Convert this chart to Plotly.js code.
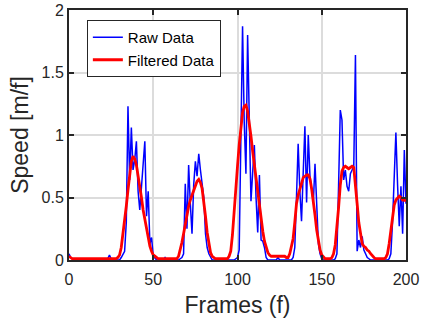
<!DOCTYPE html>
<html>
<head>
<meta charset="utf-8">
<script src="https://cdn.plot.ly/plotly-3.0.1.min.js"></script>
<style>html,body{margin:0;padding:0;background:#fff;}#chart{width:422px;height:320px;}</style>
</head>
<body>
<div id="chart"></div>
<script>
// Frame index 0..200
const frames = Array.from({length: 201}, (_, i) => i);

// Raw speed per frame
const rawData = [
  0.05,0.02,0.01,0,0,0,0,0,0,0,
  0,0,0,0,0,0,0,0,0,0,
  0,0,0,0.01,0.04,0.01,0,0,0,0,
  0,0.02,0.04,0.07,0.3,1.23,0.64,1.06,0.72,0.8,
  0.95,0.55,0.4,0.6,0.8,0.95,0.35,0.55,0.13,0.18,
  0.03,0.01,0,0,0,0,0,0.02,0,0,
  0,0,0,0,0,0,0.01,0.02,0.05,0.61,
  0.25,0.76,0.45,0.21,0.6,0.79,0.67,0.85,0.72,0.6,
  0.5,0.21,0.1,0.05,0.02,0,0,0,0,0,
  0,0,0,0,0,0,0,0,0,0.01,
  0.02,0.08,0.9,1.87,1.1,0.69,1.8,1.1,0.47,0.7,
  0.92,0.5,0.22,0.68,0.16,0.15,0.1,0.02,0,0,
  0,0,0,0,0.02,0,0,0,0,0,
  0,0,0,0.02,0.1,0.5,0.93,0.55,0.31,0.7,
  1.07,0.46,1.0,0.67,0.55,0.46,0.77,0.4,0.13,0.05,
  0.01,0,0,0,0,0,0,0,0.01,0.05,
  0.6,1.2,1.12,0.64,0.72,0.59,0.55,0.69,0.72,0.75,
  1.64,0.07,0.16,0.1,0.19,0.08,0.05,0.02,0.01,0,
  0,0,0,0,0,0,0,0,0,0,
  0.01,0.05,0.3,0.7,1.02,0.6,0.27,0.59,0.21,0.88,
  0.45
];

// Filtered speed per frame
const filteredData = [
  0.03,0.02,0.01,0.01,0.01,0.01,0.01,0.01,0.01,0.01,
  0.01,0.01,0.01,0.01,0.01,0.01,0.01,0.01,0.01,0.01,
  0.01,0.01,0.01,0.01,0.01,0.01,0.01,0.01,0.01,0.02,
  0.04,0.1,0.2,0.3,0.43,0.56,0.68,0.79,0.83,0.81,
  0.76,0.68,0.59,0.5,0.4,0.32,0.24,0.17,0.11,0.07,
  0.04,0.03,0.02,0.01,0.01,0.01,0.01,0.01,0.01,0.01,
  0.01,0.01,0.01,0.01,0.01,0.03,0.08,0.14,0.21,0.29,
  0.37,0.43,0.48,0.52,0.56,0.6,0.63,0.645,0.62,0.57,
  0.47,0.35,0.22,0.12,0.06,0.03,0.02,0.01,0.01,0.01,
  0.01,0.01,0.01,0.01,0.01,0.03,0.07,0.2,0.36,0.55,
  0.75,0.92,1.08,1.18,1.23,1.24,1.19,1.1,0.99,0.87,
  0.76,0.66,0.56,0.46,0.35,0.23,0.15,0.1,0.06,0.04,
  0.03,0.03,0.03,0.03,0.03,0.03,0.03,0.03,0.03,0.02,
  0.02,0.05,0.1,0.17,0.3,0.45,0.52,0.57,0.62,0.66,
  0.67,0.68,0.68,0.65,0.57,0.48,0.36,0.24,0.15,0.08,
  0.04,0.02,0.01,0.01,0.01,0.01,0.02,0.05,0.12,0.25,
  0.42,0.6,0.71,0.74,0.75,0.74,0.73,0.74,0.75,0.74,
  0.62,0.45,0.3,0.2,0.13,0.11,0.1,0.08,0.07,0.05,
  0.03,0.02,0.01,0.01,0.01,0.01,0.01,0.01,0.02,0.05,
  0.13,0.24,0.35,0.44,0.48,0.5,0.51,0.5,0.48,0.48,
  0.47
];

const seriesNames = ['Raw Data', 'Filtered Data'];
const xTicks = [0, 50, 100, 150, 200];
const yTicks = [0, 0.5, 1, 1.5, 2];
const yTickText = ['0', '0.5', '1', '1.5', '2'];

const font = 'Liberation Sans, Arial, Helvetica, sans-serif';
const dark = '#262626';

const traces = [
  {x: frames, y: rawData, name: seriesNames[0], type: 'scatter', mode: 'lines',
   line: {color: '#0000ff', width: 1.5}},
  {x: frames, y: filteredData, name: seriesNames[1], type: 'scatter', mode: 'lines',
   line: {color: '#ff0000', width: 2.8}}
];

const axisCommon = {
  showline: true, linecolor: dark, linewidth: 2, mirror: 'ticks',
  ticks: 'inside', ticklen: 5, tickwidth: 2, tickcolor: dark,
  showgrid: true, gridcolor: '#dcdcdc', gridwidth: 2,
  zeroline: false, tickfont: {family: font, size: 16, color: dark}
};

const layout = {
  width: 422, height: 320,
  margin: {l: 69, r: 16, t: 10, b: 60},
  paper_bgcolor: '#ffffff', plot_bgcolor: '#ffffff',
  showlegend: true,
  legend: {x: 0.053, y: 0.96, xanchor: 'left', yanchor: 'top',
    bgcolor: '#ffffff', bordercolor: dark, borderwidth: 1,
    font: {family: font, size: 15, color: '#000'}, itemwidth: 30, tracegroupgap: 0},
  xaxis: Object.assign({}, axisCommon, {
    range: [0, 200], tickvals: xTicks, ticktext: xTicks.map(String),
    ticklabelstandoff: 4,
    title: {text: 'Frames (f)', font: {family: font, size: 23, color: dark}, standoff: 10}
  }),
  yaxis: Object.assign({}, axisCommon, {
    range: [0, 2], tickvals: yTicks, ticktext: yTickText,
    title: {text: 'Speed [m/f]', font: {family: font, size: 23, color: dark}, standoff: 6}
  })
};

Plotly.newPlot('chart', traces, layout, {displayModeBar: false, staticPlot: true});
</script>
</body>
</html>
